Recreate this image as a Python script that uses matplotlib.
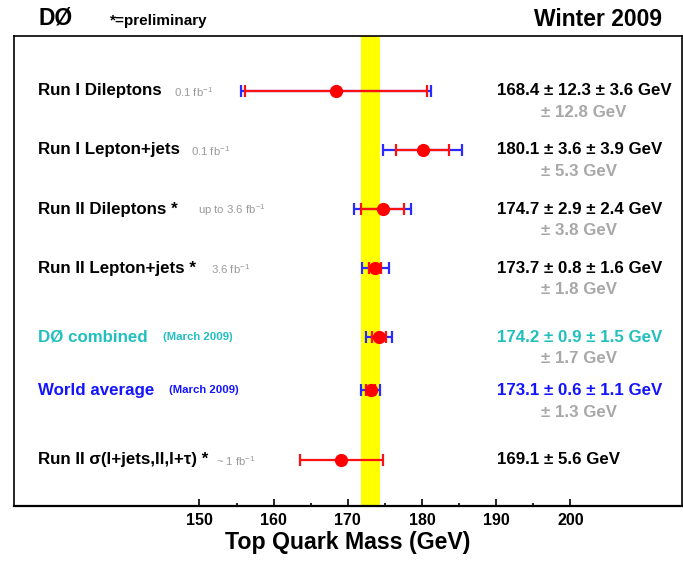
import matplotlib
matplotlib.use("Agg")
from matplotlib import pyplot as plt

plt.rcParams['font.family'] = ['Liberation Sans', 'DejaVu Sans']
plt.rcParams['mathtext.fontset'] = 'custom'
plt.rcParams['mathtext.rm'] = 'Liberation Sans'
plt.rcParams['mathtext.bf'] = 'Liberation Sans:bold'

# measurements, top to bottom
names = ["Run I Dileptons", "Run I Lepton+jets", "Run II Dileptons *",
         "Run II Lepton+jets *", "DØ combined", "World average",
         "Run II σ(l+jets,ll,l+τ) *"]
lumi = ["0.1 fb$^{-1}$", "0.1 fb$^{-1}$", "up to 3.6 fb$^{-1}$", "3.6 fb$^{-1}$",
        "(March 2009)", "(March 2009)", "~ 1 fb$^{-1}$"]
mass = [168.4, 180.1, 174.7, 173.7, 174.2, 173.1, 169.1]
stat = [12.3, 3.6, 2.9, 0.8, 0.9, 0.6, 5.6]
syst = [3.6, 3.9, 2.4, 1.6, 1.5, 1.1, None]
total = [12.8, 5.3, 3.8, 1.8, 1.7, 1.3, None]
colors = ["black", "black", "black", "black", "#22bfbf", "#1414ff", "black"]

# vertical layout of the rows
row_y = [0, 1, 2, 3, 4.17, 5.07, 6.25]
lumi_gap = [9, 8, 15, 11, 11, 11, 6]

fig = plt.figure(figsize=(6.83, 5.69), dpi=100)
ax = fig.add_axes([0.0205, 0.1107, 0.9775, 0.826])

# world average band
wa = names.index("World average")
ax.axvspan(mass[wa] - total[wa], mass[wa] + total[wa], color="#ffff00", lw=0, zorder=1)

for i in range(len(names)):
    y = row_y[i]
    if total[i] is not None:
        ax.errorbar(mass[i], y, xerr=total[i], fmt="none", ecolor="#2a2aff",
                    elinewidth=1.6, capsize=4.3, capthick=1.6, zorder=3)
    ax.errorbar(mass[i], y, xerr=stat[i], fmt="o", color="#ff0000", ms=8.5,
                ecolor="#ff1010", elinewidth=1.6, capsize=4.3, capthick=1.6, zorder=4)

    lab = ax.text(128.2, y, names[i], fontsize=12.2, fontweight="bold",
                  color=colors[i], va="center", ha="left", zorder=5)
    if lumi[i].startswith("("):
        ax.annotate(lumi[i], xy=(1, 0.5), xycoords=lab, xytext=(lumi_gap[i], 0),
                    textcoords="offset points", fontsize=8.2, fontweight="bold",
                    color=colors[i], va="center")
    else:
        ax.annotate(lumi[i], xy=(1, 0.5), xycoords=lab, xytext=(lumi_gap[i], -1),
                    textcoords="offset points", fontsize=8.2, color="#9a9a9a",
                    va="center")

    if syst[i] is not None:
        val = f"{mass[i]} ± {stat[i]} ± {syst[i]} GeV"
    else:
        val = f"{mass[i]} ± {stat[i]} GeV"
    ax.text(190.1, y, val, fontsize=12.2, fontweight="bold", color=colors[i],
            va="center", ha="left")
    if total[i] is not None:
        ax.text(196.0, y + 0.37, f"± {total[i]} GeV", fontsize=12.2,
                fontweight="bold", color="#a8a8a8", va="center", ha="left")

ax.set_xlim(125, 215)
ax.set_ylim(7.03, -0.93)
ax.set_xticks([150, 160, 170, 180, 190, 200])
ax.set_xticks([155, 165, 175, 185, 195], minor=True)
ax.set_yticks([])
ax.tick_params(axis="x", which="major", direction="in", length=5, width=1.2,
               labelsize=11.5, pad=5)
ax.tick_params(axis="x", which="minor", direction="in", length=2.2, width=1.2)
for lbl in ax.get_xticklabels():
    lbl.set_fontweight("bold")
for side in ["left", "right", "top"]:
    ax.spines[side].set_linewidth(1.2)
ax.spines["bottom"].set_linewidth(1.6)

ax.set_xlabel("Top Quark Mass (GeV)", fontsize=16.7, fontweight="bold", labelpad=2)

fig.text(39 / 683, 1 - 18 / 569, "DØ", fontsize=16.5, fontweight="bold", va="center")
fig.text(110 / 683, 1 - 21 / 569, "*=preliminary", fontsize=11, fontweight="bold", va="center")
fig.text(662 / 683, 1 - 19 / 569, "Winter 2009", fontsize=16.5, fontweight="bold",
         va="center", ha="right")

fig.savefig("out.png", dpi=100)
